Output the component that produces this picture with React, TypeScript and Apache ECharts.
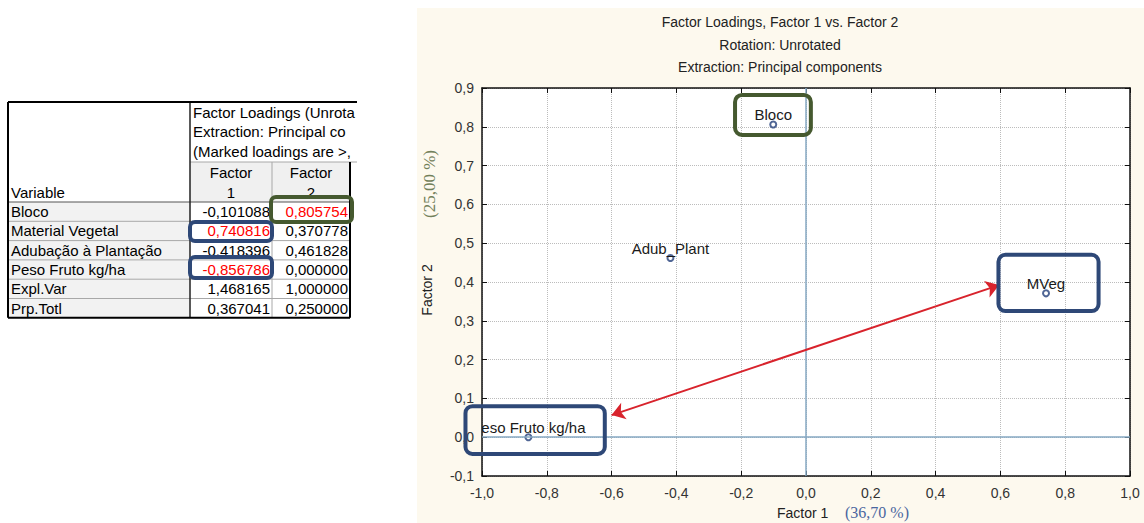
import React, { useEffect, useRef } from "react";
import * as echarts from "echarts";

// ---------- data ----------
const variables = ["Bloco", "Material Vegetal", "Adubação à Plantação", "Peso Fruto kg/ha"];
const factor1 = [-0.101088, 0.740816, -0.418396, -0.856786];
const factor2 = [0.805754, 0.370778, 0.461828, 0.0];
const explVar = [1.468165, 1.0];
const prpTotl = [0.367041, 0.25];
const summaryNames = ["Expl.Var", "Prp.Totl"];
const markThreshold = 0.7;
const tableTitleLines = ["Factor Loadings (Unrota", "Extraction: Principal co", "(Marked loadings are >,"];
const pointLabels = ["Bloco", "MVeg", "Adub_Plant", "Peso Fruto kg/ha"];
const chartTitleLines = [
  "Factor Loadings, Factor 1 vs. Factor 2",
  "Rotation: Unrotated",
  "Extraction: Principal components",
];
const xRange = [-1.0, 1.0];
const yRange = [-0.1, 0.9];
// annotation boxes [x1, y1, x2, y2, colorIndex] and the arrow, in data units
const boxes = [
  [-0.219, 0.882, 0.015, 0.779, 0],
  [0.594, 0.47, 0.903, 0.325, 1],
  [-1.051, 0.08, -0.621, -0.043, 1],
];
const arrowFrom = [-0.6, 0.057];
const arrowTo = [0.596, 0.392];

// ---------- styles ----------
const FONT = '"Liberation Sans", Arial, sans-serif';
const SERIF = '"Liberation Serif", "Times New Roman", serif';
const GREEN = "#45592f";
const BLUE = "#2e4877";
const BOX_COLORS = [GREEN, BLUE];
const fmt1 = (v: number) => v.toFixed(1).replace(".", ",");
const fmt6 = (v: number) => v.toFixed(6).replace(".", ",");

function buildTable(): any[] {
  const els: any[] = [];
  const X0 = 8, C1 = 190, C2 = 272, X3 = 350, XT = 357;
  const Y0 = 102, YH = 162, YR = 202, RH = 19.3;
  const nRows = variables.length + summaryNames.length;
  const YB = YR + nRows * RH;
  const line = (x1: number, y1: number, x2: number, y2: number, stroke: string, w: number) => ({
    type: "line",
    shape: { x1, y1, x2, y2 },
    style: { stroke, lineWidth: w },
    z: 6,
    silent: true,
  });
  const text = (t: string, x: number, y: number, align: string, fill = "#000") => ({
    type: "text",
    x,
    y,
    style: { text: t, font: `15px ${FONT}`, fill, textAlign: align, textVerticalAlign: "middle" },
    z: 8,
    silent: true,
  });
  els.push({ type: "rect", shape: { x: X0, y: Y0, width: XT - X0, height: YB - Y0 }, style: { fill: "#fff" }, z: 5 });
  els.push({ type: "rect", shape: { x: C1, y: YH, width: X3 - C1, height: YR - YH }, style: { fill: "#f0f0f0" }, z: 5 });
  els.push({ type: "rect", shape: { x: X0, y: YR, width: C1 - X0, height: YB - YR }, style: { fill: "#f2f2f2" }, z: 5 });
  for (let i = 1; i < nRows; i++) els.push(line(X0, YR + i * RH, X3, YR + i * RH, "#a8a8a8", 1));
  els.push(line(C1, YH, XT, YH, "#a8a8a8", 1));
  els.push(line(C2, YH, C2, YB, "#a8a8a8", 1));
  els.push(line(X0, YR, X3, YR, "#555", 1));
  els.push(line(C1, Y0, C1, YB, "#222", 1.5));
  els.push(line(X0, Y0, XT, Y0, "#000", 2));
  els.push(line(X0, Y0, X0, YB, "#000", 2));
  els.push(line(X0, YB, X3, YB, "#000", 2));
  els.push(line(X3, YH, X3, YB, "#000", 2));
  tableTitleLines.forEach((t, i) => els.push(text(t, C1 + 3, 112 + i * 19.5, "left")));
  els.push(text("Variable", X0 + 3, 192, "left"));
  [[C1, C2], [C2, X3]].forEach(([a, b], i) => {
    els.push(text("Factor", (a + b) / 2, 172, "center"));
    els.push(text(String(i + 1), (a + b) / 2, 192, "center"));
  });
  variables.forEach((v, i) => {
    const yc = YR + (i + 0.5) * RH;
    els.push(text(v, X0 + 3, yc, "left"));
    const f1 = factor1[i], f2 = factor2[i];
    els.push(text(fmt6(f1), C2 - 2, yc, "right", Math.abs(f1) > markThreshold ? "#ff0000" : "#000"));
    els.push(text(fmt6(f2), X3 - 2, yc, "right", Math.abs(f2) > markThreshold ? "#ff0000" : "#000"));
  });
  const sums = [explVar, prpTotl];
  summaryNames.forEach((n, j) => {
    const yc = YR + (variables.length + j + 0.5) * RH;
    els.push(text(n, X0 + 3, yc, "left"));
    els.push(text(fmt6(sums[j][0]), C2 - 2, yc, "right"));
    els.push(text(fmt6(sums[j][1]), X3 - 2, yc, "right"));
  });
  // highlight boxes on the table
  const hb = (x: number, y: number, w: number, h: number, stroke: string) => ({
    type: "rect",
    shape: { x, y, width: w, height: h, r: 5 },
    style: { fill: "none", stroke, lineWidth: 4 },
    z: 9,
    silent: true,
  });
  els.push(hb(271, 197, 81, 25, GREEN));
  els.push(hb(190, 222, 82, 19, BLUE));
  els.push(hb(190, 257, 82, 21, BLUE));
  return els;
}

function buildOption(): any {
  const axisCommon = {
    type: "value",
    axisLine: { show: true, onZero: false, lineStyle: { color: "#111", width: 1.5 } },
    axisTick: { show: true, inside: true, length: 5, lineStyle: { color: "#111", width: 1 } },
  };
  const chartGraphics: any[] = [
    { type: "rect", shape: { x: 0, y: 0, width: 417, height: 523 }, style: { fill: "#fff" }, z: -10, silent: true },
    { type: "rect", shape: { x: 417, y: 0, width: 727, height: 8 }, style: { fill: "#fff" }, z: -10, silent: true },
    ...chartTitleLines.map((t, i) => ({
      type: "text",
      x: 780,
      y: 22 + i * 22.5,
      style: { text: t, font: `14px ${FONT}`, fill: "#222", textAlign: "center", textVerticalAlign: "middle" },
      silent: true,
    })),
    {
      type: "text",
      x: 427,
      y: 290,
      rotation: Math.PI / 2,
      style: { text: "Factor 2", font: `14px ${FONT}`, fill: "#222", textAlign: "center", textVerticalAlign: "middle" },
      silent: true,
    },
    {
      type: "text",
      x: 429,
      y: 184,
      rotation: Math.PI / 2,
      style: { text: "(25,00 %)", font: `17px ${SERIF}`, fill: "#72805a", textAlign: "center", textVerticalAlign: "middle" },
      silent: true,
    },
    {
      type: "text",
      x: 777,
      y: 513,
      style: { text: "Factor 1", font: `14px ${FONT}`, fill: "#222", textAlign: "left", textVerticalAlign: "middle" },
      silent: true,
    },
    {
      type: "text",
      x: 845,
      y: 512,
      style: { text: "(36,70 %)", font: `16px ${SERIF}`, fill: "#4a66a0", textAlign: "left", textVerticalAlign: "middle" },
      silent: true,
    },
    ...buildTable(),
  ];

  const points = factor1.map((x, i) => [x, factor2[i]]);

  return {
    animation: false,
    backgroundColor: "#fdf9ee",
    textStyle: { fontFamily: FONT },
    grid: { left: 482, right: 14, top: 88, bottom: 47, show: true, backgroundColor: "#fff", borderWidth: 0 },
    xAxis: [
      {
        ...axisCommon,
        position: "bottom",
        min: xRange[0],
        max: xRange[1],
        interval: 0.2,
        axisLabel: { formatter: fmt1, fontSize: 14, color: "#333", fontFamily: FONT, margin: 10 },
        splitLine: { show: true, lineStyle: { type: "dotted", color: "#bcbcbc", width: 1 } },
      },
      {
        ...axisCommon,
        position: "top",
        min: xRange[0],
        max: xRange[1],
        interval: 0.2,
        axisLabel: { show: false },
        splitLine: { show: false },
      },
    ],
    yAxis: [
      {
        ...axisCommon,
        position: "left",
        min: yRange[0],
        max: yRange[1],
        interval: 0.1,
        axisLabel: { formatter: fmt1, fontSize: 14, color: "#333", fontFamily: FONT, margin: 8 },
        splitLine: { show: true, lineStyle: { type: "dotted", color: "#bcbcbc", width: 1 } },
      },
      {
        ...axisCommon,
        position: "right",
        min: yRange[0],
        max: yRange[1],
        interval: 0.1,
        axisLabel: { show: false },
        splitLine: { show: false },
      },
    ],
    graphic: { elements: chartGraphics },
    series: [
      {
        type: "scatter",
        xAxisIndex: 0,
        yAxisIndex: 0,
        data: points,
        symbol: "emptyCircle",
        symbolSize: 6,
        itemStyle: { color: "#24407a", borderColor: "#24407a", borderWidth: 1.2 },
        z: 4,
        markLine: {
          silent: true,
          symbol: ["none", "none"],
          label: { show: false },
          lineStyle: { type: "solid", color: "#86a9c3", width: 1.5 },
          data: [{ xAxis: 0 }, { yAxis: 0 }],
        },
      },
      {
        type: "custom",
        xAxisIndex: 0,
        yAxisIndex: 0,
        data: points,
        clip: true,
        z: 5,
        renderItem: (params: any, api: any) => {
          const p = api.coord([api.value(0), api.value(1)]);
          return {
            type: "text",
            x: p[0],
            y: p[1] - 10,
            style: {
              text: pointLabels[params.dataIndex],
              font: `15px ${FONT}`,
              fill: "#1a1a1a",
              textAlign: "center",
              align: "center",
              textVerticalAlign: "middle",
              verticalAlign: "middle",
            },
          };
        },
      },
      {
        type: "lines",
        coordinateSystem: "cartesian2d",
        xAxisIndex: 0,
        yAxisIndex: 0,
        symbol: ["arrow", "arrow"],
        symbolSize: 13,
        lineStyle: { color: "#d8232c", width: 2, opacity: 1 },
        z: 6,
        data: [{ coords: [arrowFrom, arrowTo] }],
      },
      {
        type: "custom",
        xAxisIndex: 0,
        yAxisIndex: 0,
        data: boxes,
        encode: { x: [0, 2], y: [1, 3] },
        clip: false,
        z: 7,
        renderItem: (params: any, api: any) => {
          const a = api.coord([api.value(0), api.value(1)]);
          const b = api.coord([api.value(2), api.value(3)]);
          return {
            type: "rect",
            shape: {
              x: Math.min(a[0], b[0]),
              y: Math.min(a[1], b[1]),
              width: Math.abs(b[0] - a[0]),
              height: Math.abs(b[1] - a[1]),
              r: 7,
            },
            style: { fill: "none", stroke: BOX_COLORS[api.value(4)], lineWidth: 4 },
          };
        },
      },
    ],
  };
}

export default function App() {
  const ref = useRef<HTMLDivElement>(null);
  useEffect(() => {
    if (!ref.current) return;
    const chart = echarts.init(ref.current, null, { renderer: "svg" });
    chart.setOption(buildOption());
    return () => chart.dispose();
  }, []);
  return <div ref={ref} style={{ position: "fixed", left: 0, top: 0, width: 1144, height: 523 }} />;
}
